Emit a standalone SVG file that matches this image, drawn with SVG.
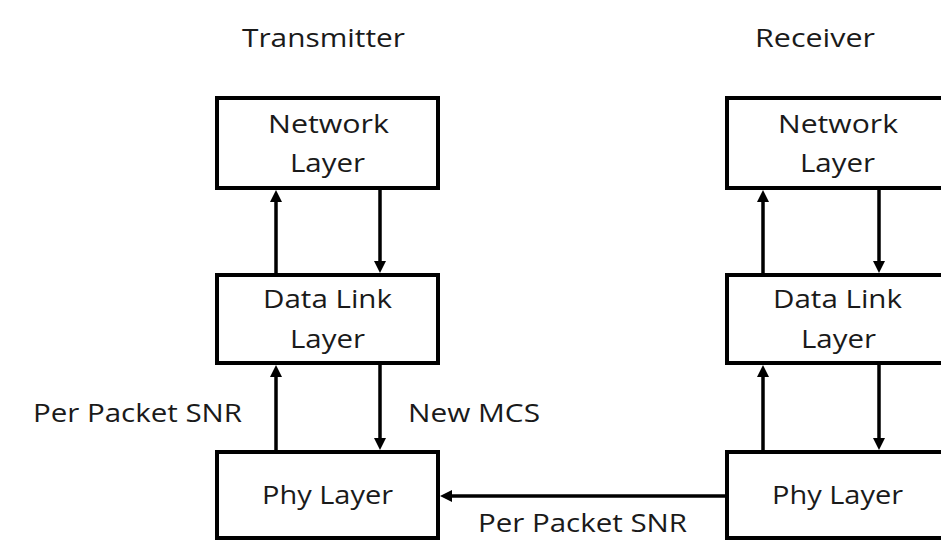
<svg xmlns="http://www.w3.org/2000/svg" width="941" height="544" viewBox="0 0 941 544">
<style>
.box{fill:#fff;stroke:#000;stroke-width:4}
.t{font-family:"Open Sans","Liberation Sans",sans-serif;font-size:25px;fill:#1a1a1a}
.c{stroke:#000;stroke-width:3.5;fill:none;marker-end:url(#ah)}
</style>
<defs>
<marker id="ah" markerUnits="userSpaceOnUse" markerWidth="13" markerHeight="13" refX="4" refY="6" orient="auto">
<path d="M0,0 L12,6 L0,12 z" fill="#000"/>
</marker>
</defs>
<rect width="941" height="544" fill="#fff"/>
<text class="t" x="242" y="47" textLength="163" lengthAdjust="spacingAndGlyphs">Transmitter</text>
<text class="t" x="755" y="47" textLength="120" lengthAdjust="spacingAndGlyphs">Receiver</text>
<g id="tx-network">
<rect class="box" x="217" y="98" width="221" height="90"/>
<text class="t" x="268" y="133" textLength="121" lengthAdjust="spacingAndGlyphs">Network</text>
<text class="t" x="290" y="172" textLength="75" lengthAdjust="spacingAndGlyphs">Layer</text>
</g>
<g id="tx-datalink">
<rect class="box" x="217" y="275" width="221" height="88"/>
<text class="t" x="263" y="308" textLength="129" lengthAdjust="spacingAndGlyphs">Data Link</text>
<text class="t" x="290" y="348" textLength="75" lengthAdjust="spacingAndGlyphs">Layer</text>
</g>
<g id="tx-phy">
<rect class="box" x="217" y="452" width="221" height="86"/>
<text class="t" x="262" y="504" textLength="131" lengthAdjust="spacingAndGlyphs">Phy Layer</text>
</g>
<g id="rx-network">
<rect class="box" x="727" y="98" width="222" height="90"/>
<text class="t" x="778" y="133" textLength="120" lengthAdjust="spacingAndGlyphs">Network</text>
<text class="t" x="800" y="172" textLength="75" lengthAdjust="spacingAndGlyphs">Layer</text>
</g>
<g id="rx-datalink">
<rect class="box" x="727" y="275" width="222" height="88"/>
<text class="t" x="773" y="308" textLength="129" lengthAdjust="spacingAndGlyphs">Data Link</text>
<text class="t" x="801" y="348" textLength="75" lengthAdjust="spacingAndGlyphs">Layer</text>
</g>
<g id="rx-phy">
<rect class="box" x="727" y="452" width="222" height="86"/>
<text class="t" x="772" y="504" textLength="131" lengthAdjust="spacingAndGlyphs">Phy Layer</text>
</g>
<g id="connectors">
<line class="c" x1="276" y1="273" x2="276" y2="198"/>
<line class="c" x1="380" y1="190" x2="380" y2="265"/>
<line class="c" x1="276" y1="450" x2="276" y2="373"/>
<line class="c" x1="380" y1="365" x2="380" y2="442"/>
<line class="c" x1="763" y1="273" x2="763" y2="198"/>
<line class="c" x1="879" y1="190" x2="879" y2="265"/>
<line class="c" x1="763" y1="450" x2="763" y2="373"/>
<line class="c" x1="879" y1="365" x2="879" y2="442"/>
<line class="c" x1="725" y1="496" x2="448" y2="496"/>
<text class="t" x="33" y="422" textLength="209" lengthAdjust="spacingAndGlyphs">Per Packet SNR</text>
<text class="t" x="408" y="422" textLength="132" lengthAdjust="spacingAndGlyphs">New MCS</text>
<text class="t" x="478" y="532" textLength="209" lengthAdjust="spacingAndGlyphs">Per Packet SNR</text>
</g>
</svg>
